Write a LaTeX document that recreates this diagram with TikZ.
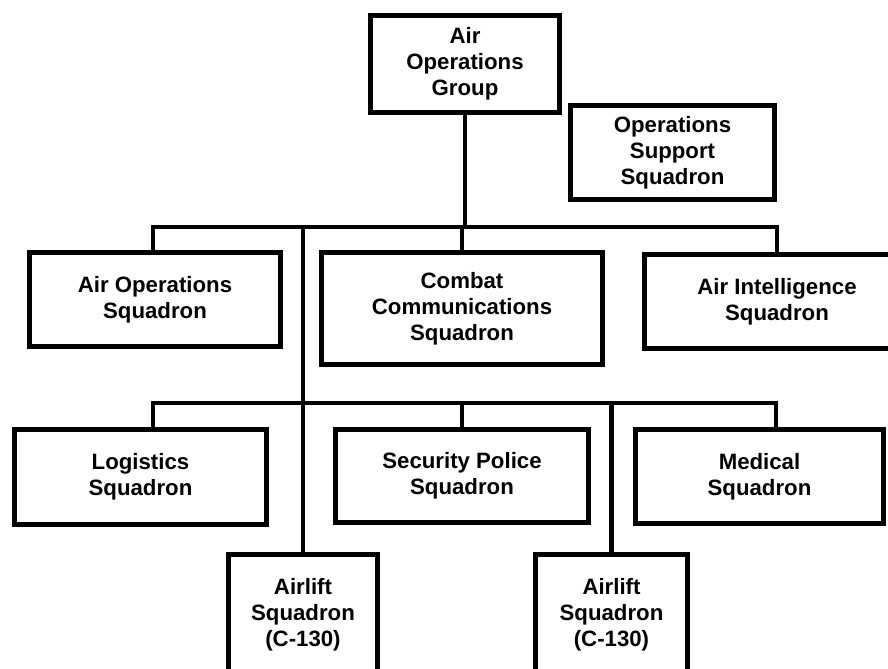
\documentclass[tikz,border=0pt]{standalone}
\usepackage{fontspec}
\setmainfont{Liberation Sans}
\usetikzlibrary{positioning}

\begin{document}
\begin{tikzpicture}[x=0.025cm, y=-0.025cm,
    box/.style={rectangle, draw, line width=3.5pt, align=center, inner sep=0pt, font=\bfseries\fontsize{15.8}{18.5}\selectfont},
    boxsize/.style 2 args={minimum width=#1*0.025cm, minimum height=#2*0.025cm},
    link/.style={line width=3.5pt}]
    \useasboundingbox (0,0) rectangle (888,669);
    \clip (0,0) rectangle (888,669);
    % group and staff
    \node[box, boxsize={189}{97}] (grp) at (465,64) {Air\\Operations\\Group};
    \node[box, boxsize={204}{94}] (ops) at (672.5,152.5) {Operations\\Support\\Squadron};
    % first row
    \node[box, boxsize={251}{94}] (aos) at (155,299.5) {Air Operations\\Squadron};
    \node[box, boxsize={281}{112}] (comm) at (462,308.5) {Combat\\Communications\\Squadron};
    \node[box, boxsize={265}{94}] (intel) at (777,301.5) {Air Intelligence\\Squadron};
    % second row
    \node[box, boxsize={252}{95}] (log) at (140.5,477) {Logistics\\Squadron};
    \node[box, boxsize={253}{93}] (sec) at (462,476) {Security Police\\Squadron};
    \node[box, boxsize={248}{94}] (med) at (759.5,476.5) {Medical\\Squadron};
    % airlift
    \node[box, boxsize={149}{120}] (lift1) at (303,614.5) {Airlift\\Squadron\\(C-130)};
    \node[box, boxsize={152}{120}] (lift2) at (611.5,614.5) {Airlift\\Squadron\\(C-130)};
    % bars
    \coordinate (bar1) at (153,227);
    \coordinate (bar1r) at (777,227);
    \coordinate (bar2) at (153,403);
    \coordinate (bar2r) at (776,403);
    \draw[link] (grp) -- (grp.south |- bar1);
    \draw[link] (aos.north -| bar1) -- (bar1) -- (bar1r) -- (intel.north -| bar1r);
    \draw[link] (comm) -- (comm.north |- bar1);
    \draw[link] (lift1) -- (lift1.north |- bar1);
    \draw[link] (log.north -| bar2) -- (bar2) -- (bar2r) -- (med.north -| bar2r);
    \draw[link] (sec) -- (sec.north |- bar2);
    \draw[link] (lift2) -- (lift2.north |- bar2);
\end{tikzpicture}
\end{document}
